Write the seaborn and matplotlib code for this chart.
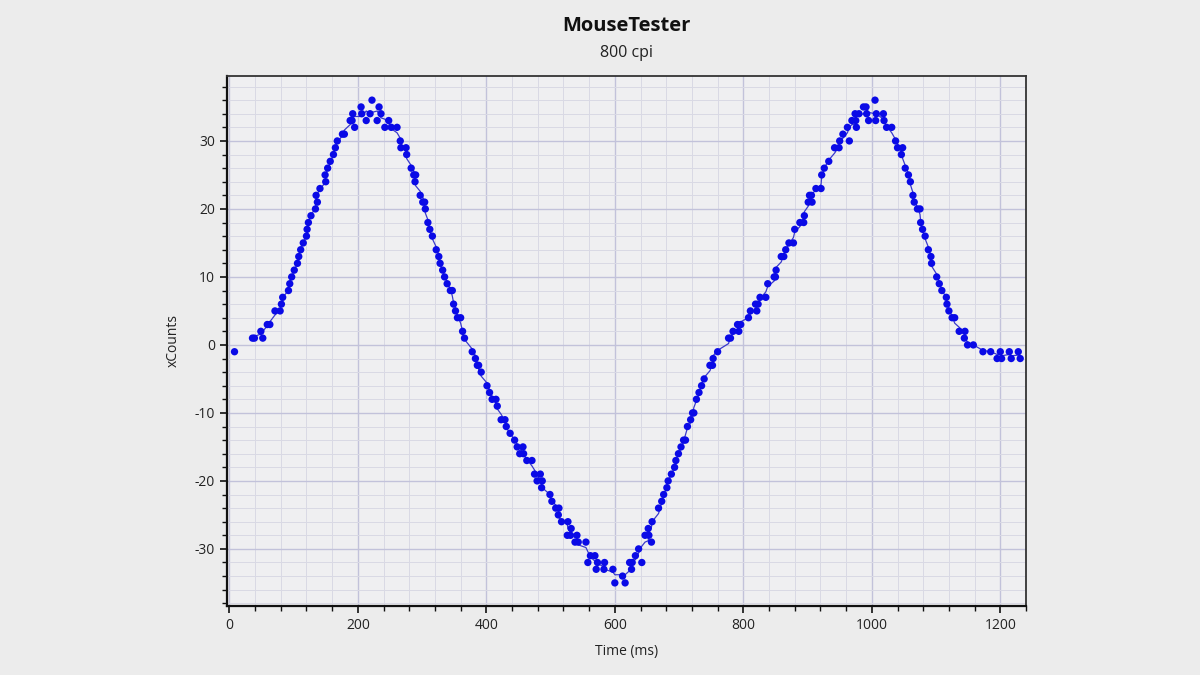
import numpy as np
import pandas as pd
import seaborn as sns
import matplotlib.pyplot as plt
from matplotlib.ticker import MultipleLocator
plt.switch_backend('agg')

# MouseTester samples (time in ms, xCounts)
time_ms = [8, 36, 39, 49, 52, 59, 63, 71, 79, 81, 83, 92, 94, 97, 101, 106, 108, 111, 115, 120,
           121, 123, 127, 134, 135, 137, 141, 149, 150, 153, 157, 162, 165, 168, 176, 179, 188, 191, 192, 195,
           205, 206, 213, 219, 222, 230, 233, 236, 242, 248, 252, 261, 266, 267, 275, 276, 283, 287, 289, 290,
           297, 301, 304, 305, 309, 312, 316, 322, 326, 328, 332, 335, 339, 344, 347, 349, 352, 355, 360, 363,
           366, 378, 383, 386, 388, 392, 401, 405, 409, 415, 417, 423, 429, 431, 437, 444, 448, 452, 457, 458,
           463, 471, 475, 479, 484, 486, 487, 499, 502, 508, 512, 513, 517, 526, 527, 531, 532, 538, 541, 543,
           555, 558, 562, 569, 571, 573, 583, 584, 597, 600, 612, 616, 623, 626, 627, 632, 637, 642, 647, 652,
           653, 657, 658, 668, 673, 676, 681, 683, 688, 693, 695, 699, 703, 707, 710, 713, 718, 721, 723, 727,
           731, 735, 739, 748, 752, 753, 760, 777, 780, 784, 791, 793, 796, 808, 811, 819, 821, 823, 826, 835,
           838, 848, 850, 851, 859, 863, 866, 871, 878, 880, 888, 894, 895, 901, 903, 906, 907, 913, 921, 922,
           926, 933, 942, 949, 950, 955, 962, 965, 969, 974, 975, 976, 980, 987, 991, 992, 995, 1005, 1006, 1007,
           1018, 1019, 1023, 1031, 1037, 1040, 1046, 1048, 1052, 1057, 1060, 1064, 1066, 1071, 1075, 1076, 1079, 1083, 1088, 1092,
           1093, 1101, 1105, 1109, 1116, 1117, 1120, 1125, 1129, 1136, 1144, 1145, 1149, 1158, 1173, 1185, 1195, 1200, 1202, 1214,
           1217, 1228, 1231]
x_counts = [-1, 1, 1, 2, 1, 3, 3, 5, 5, 6, 7, 8, 9, 10, 11, 12, 13, 14, 15, 16,
            17, 18, 19, 20, 22, 21, 23, 25, 24, 26, 27, 28, 29, 30, 31, 31, 33, 33, 34, 32,
            35, 34, 33, 34, 36, 33, 35, 34, 32, 33, 32, 32, 30, 29, 29, 28, 26, 25, 24, 25,
            22, 21, 21, 20, 18, 17, 16, 14, 13, 12, 11, 10, 9, 8, 8, 6, 5, 4, 4, 2,
            1, -1, -2, -3, -3, -4, -6, -7, -8, -8, -9, -11, -11, -12, -13, -14, -15, -16, -15, -16,
            -17, -17, -19, -20, -19, -21, -20, -22, -23, -24, -25, -24, -26, -28, -26, -28, -27, -29, -28, -29,
            -29, -32, -31, -31, -33, -32, -33, -32, -33, -35, -34, -35, -32, -33, -32, -31, -30, -32, -28, -27,
            -28, -29, -26, -24, -23, -22, -21, -20, -19, -18, -17, -16, -15, -14, -14, -12, -11, -10, -10, -8,
            -7, -6, -5, -3, -3, -2, -1, 1, 1, 2, 3, 2, 3, 4, 5, 6, 5, 6, 7, 7,
            9, 10, 10, 11, 13, 13, 14, 15, 15, 17, 18, 18, 19, 21, 22, 22, 21, 23, 23, 25,
            26, 27, 29, 29, 30, 31, 32, 30, 33, 34, 33, 32, 34, 35, 35, 34, 33, 36, 33, 34,
            34, 33, 32, 32, 30, 29, 28, 29, 26, 25, 24, 22, 21, 20, 20, 18, 17, 16, 14, 13,
            12, 10, 9, 8, 7, 6, 5, 4, 4, 2, 1, 2, 0, 0, -1, -1, -2, -1, -2, -1,
            -2, -1, -2]

df = pd.DataFrame({'Time (ms)': time_ms, 'xCounts': x_counts})
# smoothed trace drawn through the samples (starts after the first lone point)
df_line = df.iloc[1:].copy()
df_line['smooth'] = df_line['xCounts'].rolling(5, center=True, min_periods=1).mean()

sns.set_theme(style='white')
plt.rcParams['font.family'] = ['Open Sans', 'DejaVu Sans']
plt.rcParams['axes.unicode_minus'] = False

fig = plt.figure(figsize=(12, 6.75), dpi=100, facecolor='#ececec')
ax = fig.add_axes([0.189, 0.1022, 0.666, 0.7857])
ax.set_facecolor('#efeff1')

sns.lineplot(data=df_line, x='Time (ms)', y='smooth', ax=ax, color='#3a3acc', linewidth=0.9,
             estimator=None, sort=False, zorder=3)
sns.scatterplot(data=df, x='Time (ms)', y='xCounts', ax=ax, color='#0a0ae6', s=28,
                edgecolor='none', zorder=4)

ax.set_xlim(-4, 1240)
ax.set_ylim(-38.4, 39.6)
ax.xaxis.set_major_locator(MultipleLocator(200))
ax.xaxis.set_minor_locator(MultipleLocator(40))
ax.yaxis.set_major_locator(MultipleLocator(10))
ax.yaxis.set_minor_locator(MultipleLocator(2))
ax.grid(which='major', color='#c2c2da', linewidth=1.0)
ax.grid(which='minor', color='#d9d9e4', linewidth=0.7)
ax.set_axisbelow(True)

ax.tick_params(which='major', direction='out', length=5, width=1.2, colors='#111111',
               labelsize=10, labelcolor='#222222', left=True, bottom=True)
ax.tick_params(which='minor', direction='out', length=3.5, width=1.0, colors='#111111',
               left=True, bottom=True)
for side in ['left', 'bottom']:
    ax.spines[side].set_color('#111111')
    ax.spines[side].set_linewidth(1.6)
for side in ['top', 'right']:
    ax.spines[side].set_color('#333333')
    ax.spines[side].set_linewidth(1.3)

ax.set_xlabel('Time (ms)', fontsize=10, color='#222222', labelpad=8)
ax.set_ylabel('xCounts', fontsize=10, color='#222222', labelpad=10)

fig.text(0.5217, 0.962, 'MouseTester', ha='center', va='center', fontsize=14.5,
         fontweight='bold', color='#111111')
fig.text(0.5217, 0.921, '800 cpi', ha='center', va='center', fontsize=11.5, color='#222222')

fig.savefig('out.png', dpi=100, facecolor=fig.get_facecolor())
